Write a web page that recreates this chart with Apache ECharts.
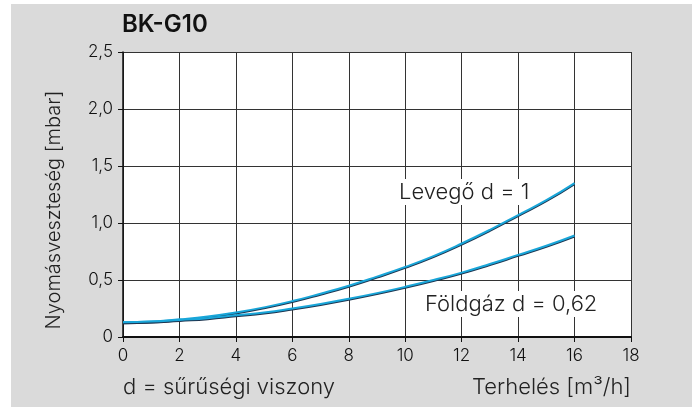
<!DOCTYPE html>
<html>
<head>
<meta charset="utf-8">
<script src="https://cdn.jsdelivr.net/npm/echarts@6/dist/echarts.min.js"></script>
<style>
  html, body { margin: 0; padding: 0; background: #fff; }
  #chart { width: 694px; height: 407px; }
</style>
</head>
<body>
<div id="chart"></div>
<script>
const loads = [0, 1, 2, 3, 4, 5, 6, 7, 8, 9, 10, 11, 12, 13, 14, 15, 16];
const airLoss = [0.13, 0.135, 0.155, 0.18, 0.215, 0.26, 0.315, 0.38, 0.45, 0.53, 0.615, 0.71, 0.82, 0.94, 1.07, 1.2, 1.35];
const gasLoss = [0.13, 0.135, 0.15, 0.165, 0.19, 0.215, 0.25, 0.29, 0.335, 0.385, 0.44, 0.5, 0.565, 0.64, 0.72, 0.8, 0.89];
const seriesNames = ["Levegő d = 1", "Földgáz d = 0,62"];

const font = "Inter, 'Noto Sans', sans-serif";
const chart = echarts.init(document.getElementById("chart"));

function lineSeries(name, values) {
  return {
    name: name,
    type: "line",
    smooth: true,
    symbol: "none",
    data: loads.map((x, i) => [x, values[i]]),
    lineStyle: {
      width: 2,
      color: "#19a6d9",
      shadowColor: "#1d3550",
      shadowOffsetY: 1,
      shadowBlur: 0,
    },
    z: 5,
  };
}

function fmt(v) {
  return v === 0 ? "0" : v.toFixed(1).replace(".", ",");
}

chart.setOption({
  backgroundColor: "#fff",
  animation: false,
  textStyle: { fontFamily: font, fontWeight: 300 },
  graphic: [
    { type: "rect", left: 11, top: 4, shape: { width: 681, height: 403 }, style: { fill: "#dadada" }, z: -10 },
    { type: "text", left: 122, top: 13, style: { text: "BK-G10", font: "600 24px " + font, fill: "#111" } },
    {
      type: "text", x: 54, y: 210, rotation: Math.PI / 2, originX: 0, originY: 0,
      style: { text: "Nyomásveszteség [mbar]", font: "300 20px " + font, fill: "#222", align: "center", verticalAlign: "middle" },
    },
    { type: "text", left: 123, top: 376, style: { text: "d = sűrűségi viszony", font: "300 22px " + font, fill: "#222" } },
    { type: "text", right: 63, top: 376, style: { text: "Terhelés [m³/h]", font: "300 22px " + font, fill: "#222" } },
    {
      type: "text", left: 396, top: 179, z: 10,
      style: { text: seriesNames[0], font: "300 22px " + font, fill: "#222", backgroundColor: "#fff", padding: [2, 3, 2, 3] },
    },
    {
      type: "text", left: 422, top: 291, z: 10,
      style: { text: seriesNames[1], font: "300 22px " + font, fill: "#222", backgroundColor: "#fff", padding: [2, 3, 2, 3] },
    },
  ],
  grid: { left: 123, right: 63, top: 52, bottom: 70, show: true, backgroundColor: "#fff", borderWidth: 0 },
  xAxis: {
    type: "value",
    min: 0,
    max: 18,
    interval: 2,
    axisLine: { show: true, lineStyle: { color: "#111", width: 2 } },
    axisTick: { show: true, length: 5, lineStyle: { color: "#111" } },
    axisLabel: { color: "#111", fontSize: 17, fontWeight: 300, margin: 10 },
    splitLine: { show: true, lineStyle: { color: "#333", width: 1 } },
  },
  yAxis: {
    type: "value",
    min: 0,
    max: 2.5,
    interval: 0.5,
    axisLine: { show: true, lineStyle: { color: "#111", width: 1.5 } },
    axisTick: { show: true, length: 5, lineStyle: { color: "#111" } },
    axisLabel: { color: "#111", fontSize: 17, fontWeight: 300, margin: 10, formatter: fmt },
    splitLine: { show: true, lineStyle: { color: "#333", width: 1 } },
  },
  series: [lineSeries(seriesNames[0], airLoss), lineSeries(seriesNames[1], gasLoss)],
});
</script>
</body>
</html>
